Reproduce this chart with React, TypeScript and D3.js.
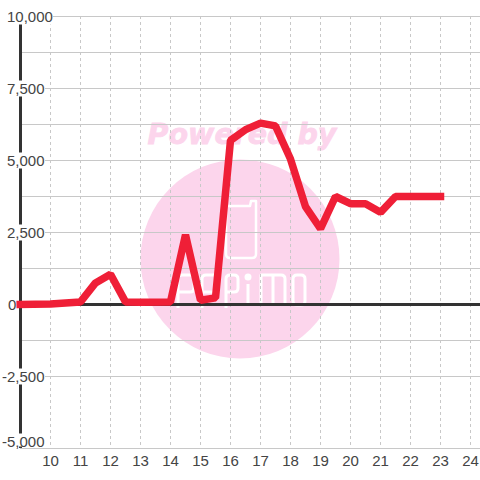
import React from "react";
import * as d3 from "d3";

const W = 480, H = 480;
const lineX = [8.99, 10, 11, 11.5, 12, 12.5, 13, 14, 14.5, 15, 15.5, 16, 16.5, 17, 17.5, 18, 18.5, 19, 19.5, 20, 20.5, 21, 21.5, 22, 23];
const lineY = [0, 20, 90, 750, 1050, 90, 80, 90, 2420, 150, 230, 5700, 6070, 6300, 6200, 5050, 3400, 2630, 3750, 3500, 3500, 3200, 3750, 3750, 3750];
const yTicks = [10000, 7500, 5000, 2500, 0, -2500, -5000];
const yGrid = [8750, 6250, 3750, 1250, -1250];
const xTicks = [10, 11, 12, 13, 14, 15, 16, 17, 18, 19, 20, 21, 22, 23, 24];

const x = d3.scaleLinear().domain([9, 24]).range([20.5, 470.5]);
const y = d3.scaleLinear().domain([-5000, 10000]).range([448.5, 16.5]);
const fmt = (t: number) => d3.format(",")(t).replace("\u2212", "-");
const font = "'Liberation Sans', Arial, sans-serif";
const pink = "#fcd5ec";
const grid = "#c8c8c8";
const ink = "#333";

const labelStart = (t: number) => (t < 0 ? 2 : t === 0 ? 8 : 7);
const labelEnd = (t: number) => (t === 10000 ? 53 : t === 0 ? 17 : 45);
const labelDy = (t: number) => (t === -5000 ? -7 : 0);

export default function App() {
  const path = d3.line<number>().x((d) => x(d)).y((_, i) => y(lineY[i]))(lineX) as string;
  return (
    <svg width={W} height={H} style={{ position: "fixed", left: 0, top: 0, background: "#fff" }}>
      <rect width={W} height={H} fill="#fff" />
      <circle cx={240} cy={259} r={99.5} fill={pink} />
      <text x={242} y={144} textAnchor="middle" fontFamily="'DejaVu Sans', sans-serif" fontWeight="bold" fontStyle="italic" fontSize={28.5} fill={pink} stroke={pink} strokeWidth={0.8}>Powered by</text>
      <path d="M226 206 H250 L251 201 H256 V254 Q256 258 252 258 H230 Q226 258 226 254 Z" fill="none" stroke="#fff" strokeWidth={2.5} strokeLinejoin="round" />
      <path d="M178 308 V279 Q178 275 182 275 H190 Q194 275 194 279 V288 Q194 292 190 292 H178 M202 308 V279 Q202 275 206 275 H214 Q218 275 218 279 V288 Q218 292 214 292 H202 M226 308 V279 Q226 275 230 275 H234 Q238 275 238 279 V288 Q238 292 234 292 H226 M248 284 V305 M261 305 V275 H281 Q285 275 285 279 V305 M273 275 V305 M297 275 H301 Q305 275 305 279 V301 Q305 305 301 305 H297 Q293 305 293 301 V279 Q293 275 297 275 Z" fill="none" stroke="#fff" strokeWidth={3} strokeLinejoin="round" />
      <circle cx={248} cy={277} r={3.5} fill="#fff" />
      {xTicks.map((t) => (
        <line key={t} x1={x(t)} x2={x(t)} y1={16} y2={448} stroke={grid} strokeWidth={1} strokeDasharray="3 3" />
      ))}
      {yTicks.concat(yGrid).map((t) => (
        <line key={t} x1={20} x2={480} y1={y(t)} y2={y(t)} stroke={grid} strokeWidth={1} />
      ))}
      <line x1={20.5} x2={20.5} y1={16} y2={448} stroke={ink} strokeWidth={3} />
      <line x1={20} x2={480} y1={y(0)} y2={y(0)} stroke={ink} strokeWidth={3} />
      {yTicks.map((t) => (
        <g key={t}>
          <rect x={labelStart(t) - 1} y={y(t) - 8 + labelDy(t)} width={labelEnd(t) - labelStart(t) + 1} height={t === -5000 ? 13 : 16} fill="#fff" />
          <text x={labelStart(t)} y={y(t) + 5.5 + labelDy(t)} textAnchor="start" fontFamily={font} fontSize={15} fill="#444">{fmt(t)}</text>
        </g>
      ))}
      {xTicks.map((t) => (
        <text key={t} x={x(t)} y={466} textAnchor="middle" fontFamily={font} fontSize={15} fill="#444">{t}</text>
      ))}
      <path d={path} fill="none" stroke="#ef1f37" strokeWidth={7.5} strokeLinejoin="bevel" strokeLinecap="square" />
    </svg>
  );
}
